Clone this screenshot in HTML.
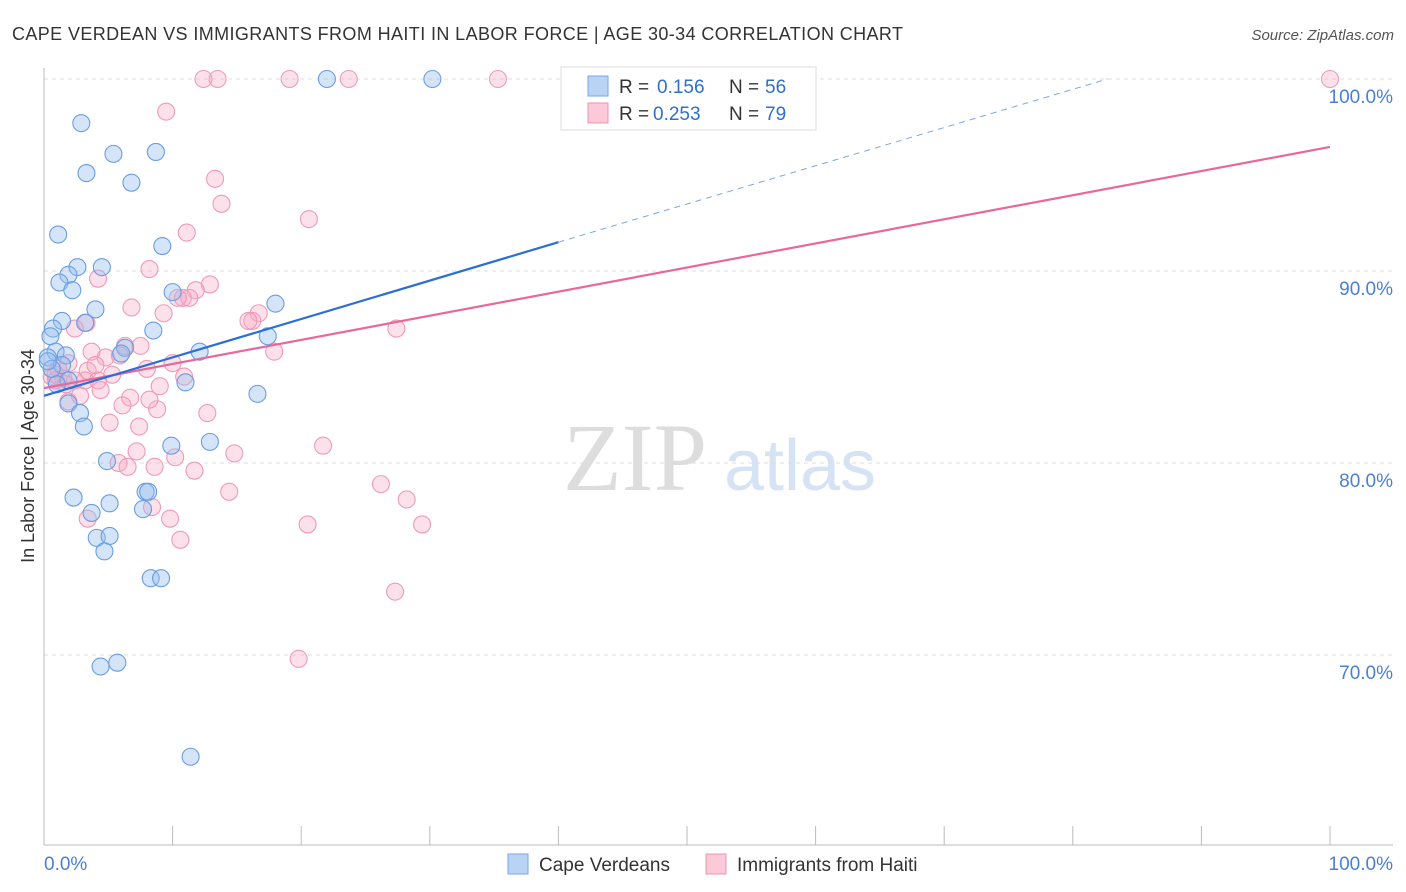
<!DOCTYPE html>
<html><head><meta charset="utf-8"><style>
body{margin:0;background:#fff;font-family:"Liberation Sans",sans-serif}
svg{display:block}
</style></head><body>
<svg width="1406" height="892" xmlns="http://www.w3.org/2000/svg">
<text x="12" y="40" font-size="18" fill="#333" textLength="891" lengthAdjust="spacing">CAPE VERDEAN VS IMMIGRANTS FROM HAITI IN LABOR FORCE | AGE 30-34 CORRELATION CHART</text>
<text x="1394" y="40" font-size="15" fill="#555" font-style="italic" text-anchor="end">Source: ZipAtlas.com</text>
<g>
<text x="635" y="490" font-size="96" fill="#ddd" font-family="Liberation Serif" text-anchor="middle">ZIP</text>
<text x="800" y="490" font-size="72" fill="#d6e3f5" text-anchor="middle">atlas</text>
</g>
<g id="grid"></g>
<g id="axes"></g>
<g id="marks"></g>
<text transform="translate(34,456) rotate(-90)" font-size="18" fill="#333" text-anchor="middle">In Labor Force | Age 30-34</text>
<g>
<rect x="561" y="67" width="255" height="63" fill="#fff" stroke="#ddd"/>
<rect x="588" y="76" width="20" height="20" fill="#b9d3f5" stroke="#7aa6e6"/>
<rect x="588" y="103" width="20" height="20" fill="#fbc9d8" stroke="#ee94b0"/>
<text x="619" y="93" font-size="19" fill="#333">R =</text>
<text x="657" y="93" font-size="19" fill="#2f6fd0">0.156</text>
<text x="729" y="93" font-size="19" fill="#333">N =</text>
<text x="765" y="93" font-size="19" fill="#2f6fd0">56</text>
<text x="619" y="120" font-size="19" fill="#333">R =</text>
<text x="653" y="120" font-size="19" fill="#2f6fd0">0.253</text>
<text x="729" y="120" font-size="19" fill="#333">N =</text>
<text x="765" y="120" font-size="19" fill="#2f6fd0">79</text>
</g>
<g>
<rect x="508" y="854" width="20" height="20" fill="#b9d3f5" stroke="#7aa6e6"/>
<text x="539" y="871" font-size="19" fill="#333">Cape Verdeans</text>
<rect x="706" y="854" width="20" height="20" fill="#fbc9d8" stroke="#ee94b0"/>
<text x="737" y="871" font-size="19" fill="#333">Immigrants from Haiti</text>
</g>
</svg>
<script>
const yTicks=[70,80,90,100];
const yTickLabels=["70.0%","80.0%","90.0%","100.0%"];
const xTickLabels=["0.0%","100.0%"];
const blueX=[22.0,30.2,2.9,5.4,8.7,3.3,6.8,1.1,9.2,2.6,1.9,4.5,1.2,2.2,10.0,4.0,18.0,1.4,3.2,0.7,0.5,8.5,17.4,0.9,0.3,1.7,6.3,6.0,12.1,1.4,0.6,1.9,11.0,16.6,1.9,2.8,3.1,9.9,12.9,4.9,2.3,5.1,7.9,8.1,3.7,7.7,4.1,5.1,4.7,8.3,9.1,4.4,5.7,11.4,0.3,1.0];
const blueY=[100,100,97.7,96.1,96.2,95.1,94.6,91.9,91.3,90.2,89.8,90.2,89.4,89.0,88.9,88.0,88.3,87.4,87.3,87.0,86.6,86.9,86.6,85.8,85.5,85.6,86.0,85.7,85.8,85.1,84.9,84.3,84.2,83.6,83.1,82.6,81.9,80.9,81.1,80.1,78.2,77.9,78.5,78.5,77.4,77.6,76.1,76.2,75.4,74.0,74.0,69.4,69.6,64.7,85.3,84.1];
const pinkX=[12.4,13.5,19.1,23.7,35.3,100,9.5,13.3,13.8,20.6,11.1,8.2,4.2,12.9,11.8,10.8,11.3,10.4,6.8,9.3,16.7,16.2,15.9,3.3,2.4,27.4,17.9,6.3,3.7,4.8,1.9,10.0,8.0,1.1,3.4,5.3,0.6,1.5,3.2,4.2,0.9,10.9,9.0,6.7,1.9,8.8,6.1,12.7,5.1,7.4,21.7,7.2,14.8,10.2,5.8,6.5,8.6,11.7,14.4,26.2,28.2,8.4,3.4,9.8,20.5,29.4,10.6,27.3,19.8,0.9,2.4,7.5,4.0,1.7,5.9,4.4,8.2,2.8];
const pinkY=[100,100,100,100,100,100,98.3,94.8,93.5,92.7,92.0,90.1,89.6,89.3,89.0,88.6,88.6,88.6,88.1,87.8,87.8,87.4,87.4,87.3,87.0,87.0,85.8,86.1,85.8,85.5,85.2,85.2,84.9,84.9,84.8,84.6,84.5,84.4,84.3,84.3,84.3,84.5,84.0,83.4,83.2,82.8,83.0,82.6,82.1,81.9,80.9,80.6,80.5,80.3,80.0,79.8,79.8,79.6,78.5,78.9,78.1,77.7,77.1,77.1,76.8,76.8,76.0,73.3,69.8,84.6,84.3,86.1,85.1,84.1,85.6,83.8,83.3,83.5];
const blueTrend=[83.5,91.5,100.0];
const blueTrendX=[0,40,82.7];
const pinkTrend=[83.9,96.46];
const pinkTrendX=[0,100];
const NS="http://www.w3.org/2000/svg";
const sx=v=>44+v*12.86, sy=v=>79+(100-v)*19.2;
function mk(t,a,p){const e=document.createElementNS(NS,t);for(const k in a)e.setAttribute(k,a[k]);p.appendChild(e);return e;}
const grid=document.getElementById('grid'),axes=document.getElementById('axes'),marks=document.getElementById('marks');
yTicks.forEach((v,i)=>{
 const l=mk('line',{x1:44,x2:1393,y1:sy(v),y2:sy(v),stroke:'#ddd','stroke-dasharray':'4,4'},grid);
 
 
 const t=mk('text',{x:1393,y:sy(v)+24,'font-size':19,fill:'#4a7fd6','text-anchor':'end'},axes);
 t.textContent=yTickLabels[i];
 
 
});
const al=mk('line',{x1:44,x2:44,y1:68,y2:845,stroke:'#bbb'},axes);


const bl=mk('line',{x1:44,x2:1393,y1:845,y2:845,stroke:'#bbb'},axes);


for(let i=0;i<=10;i++){const t=mk('line',{x1:sx(i*10),x2:sx(i*10),y1:826,y2:845,stroke:'#bbb'},axes);
 
 }
[[0,'start'],[100,'end']].forEach((d,i)=>{const t=mk('text',{x:i?1393:44,y:870,'font-size':19,fill:'#4a7fd6','text-anchor':d[1]},axes);t.textContent=xTickLabels[i];
 
 });
pinkX.forEach((x,i)=>{const c=mk('circle',{cx:sx(x),cy:sy(pinkY[i]),r:8.5,fill:'rgba(247,170,195,0.35)',stroke:'#f09ab6','stroke-width':1.1},marks);
 
 });
blueX.forEach((x,i)=>{const c=mk('circle',{cx:sx(x),cy:sy(blueY[i]),r:8.5,fill:'rgba(150,190,240,0.4)',stroke:'#6a9de2','stroke-width':1.1},marks);
 
 });
const pl=mk('line',{x1:sx(pinkTrendX[0]),y1:sy(pinkTrend[0]),x2:sx(pinkTrendX[1]),y2:sy(pinkTrend[1]),stroke:'#e8689a','stroke-width':2.2},marks);


const b1=mk('line',{x1:sx(blueTrendX[0]),y1:sy(blueTrend[0]),x2:sx(blueTrendX[1]),y2:sy(blueTrend[1]),stroke:'#2a6fd6','stroke-width':2.2},marks);


const b2=mk('line',{x1:sx(blueTrendX[1]),y1:sy(blueTrend[1]),x2:sx(blueTrendX[2]),y2:sy(blueTrend[2]),stroke:'#7aa6e6','stroke-width':1,'stroke-dasharray':'6,5'},marks);


</script>
</body></html>
